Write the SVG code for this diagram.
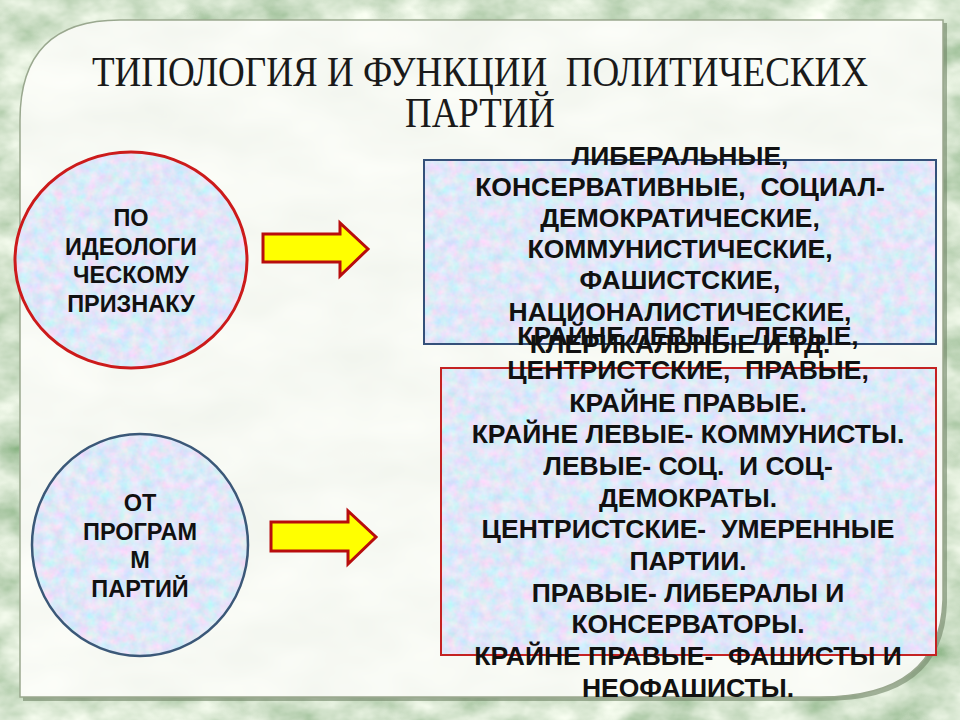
<svg xmlns="http://www.w3.org/2000/svg" width="960" height="720" viewBox="0 0 960 720">
<style>
.title{font-family:"Liberation Serif","Times New Roman",serif;font-size:42px;fill:#1a1a1a;white-space:pre}
.ctext{font-family:"Liberation Sans",Arial,sans-serif;font-weight:bold;font-size:23.5px;fill:#111;text-anchor:middle}
.btext{font-family:"Liberation Sans",Arial,sans-serif;font-weight:bold;font-size:26.5px;fill:#111;text-anchor:middle;white-space:pre}
.arrow{fill:#ffff00;stroke:#b80d0d;stroke-width:3;stroke-linejoin:miter}
</style>
<defs>
<filter id="fbg" filterUnits="userSpaceOnUse" x="0" y="0" width="960" height="720">
<feTurbulence type="fractalNoise" baseFrequency="0.02 0.03" numOctaves="4" seed="7"/>
<feColorMatrix type="matrix" values="0.9 0 0 0 0.19  0.7 0 0 0 0.41  0.85 0 0 0 0.17  0 0 0 0 1"/>
</filter>
<filter id="fpanel" filterUnits="userSpaceOnUse" x="0" y="0" width="960" height="720">
<feTurbulence type="fractalNoise" baseFrequency="0.01 0.02" numOctaves="3" seed="2"/>
<feColorMatrix type="matrix" values="0.12 0 0 0 0.87  0.10 0 0 0 0.9  0.12 0 0 0 0.84  0 0 0 0 1"/>
</filter>
<filter id="fblue" filterUnits="userSpaceOnUse" x="0" y="0" width="240" height="240">
<feTurbulence type="fractalNoise" baseFrequency="0.09" numOctaves="3" seed="5" stitchTiles="stitch"/>
<feColorMatrix type="matrix" values="0.6 -0.2 0 0 0.54  -0.1 0.35 0 0 0.68  0 0 0.2 0 0.84  0 0 0 0 1"/>
</filter>
<pattern id="blue" patternUnits="userSpaceOnUse" width="240" height="240">
<rect width="240" height="240" filter="url(#fblue)"/>
</pattern>
<clipPath id="panelclip">
<path d="M20 120 Q20 20 120 20 L943 20 L943 600 Q940 697 820 697 L20 697 Z"/>
</clipPath>
</defs>

<rect width="960" height="720" filter="url(#fbg)"/>

<g id="panel">
<path d="M23 124 Q23 23 123 23 L947 23 L947 603 Q944 701 823 701 L23 701 Z" fill="#6f8466" opacity="0.6"/>
<g clip-path="url(#panelclip)">
<rect width="960" height="720" filter="url(#fpanel)"/>
</g>
<path d="M20 120 Q20 20 120 20 L943 20 L943 600 Q940 697 820 697 L20 697 Z" fill="none" stroke="#9aa88f" stroke-width="1.5"/>
</g>

<g id="title">
<text class="title" x="92" y="86" textLength="776" lengthAdjust="spacingAndGlyphs">ТИПОЛОГИЯ И ФУНКЦИИ  ПОЛИТИЧЕСКИХ</text>
<text class="title" x="405" y="127" textLength="150" lengthAdjust="spacingAndGlyphs">ПАРТИЙ</text>
</g>

<g id="circle-ideology">
<ellipse cx="131" cy="260" rx="116" ry="108" fill="url(#blue)" stroke="#cc1b1b" stroke-width="3"/>
<text class="ctext" x="131" y="226">ПО</text>
<text class="ctext" x="131" y="255">ИДЕОЛОГИ</text>
<text class="ctext" x="131" y="283">ЧЕСКОМУ</text>
<text class="ctext" x="131" y="312">ПРИЗНАКУ</text>
</g>

<g id="circle-programs">
<ellipse cx="140" cy="545" rx="108" ry="111" fill="url(#blue)" stroke="#3b5878" stroke-width="2.5"/>
<text class="ctext" x="140" y="511">ОТ</text>
<text class="ctext" x="140" y="540">ПРОГРАМ</text>
<text class="ctext" x="140" y="568">М</text>
<text class="ctext" x="140" y="597">ПАРТИЙ</text>
</g>

<g id="connectors">
<polygon class="arrow" points="263,234 340,234 340,223 368,249 340,276 340,262 263,262"/>
<polygon class="arrow" points="271,522 348,522 348,511 376,537 348,564 348,551 271,551"/>
</g>

<g id="box-ideology">
<rect x="424" y="160" width="512" height="184" fill="url(#blue)" stroke="#34507a" stroke-width="2"/>
<text class="btext" x="680" y="165">ЛИБЕРАЛЬНЫЕ,</text>
<text class="btext" x="680" y="196">КОНСЕРВАТИВНЫЕ,  СОЦИАЛ-</text>
<text class="btext" x="680" y="227">ДЕМОКРАТИЧЕСКИЕ,</text>
<text class="btext" x="680" y="258">КОММУНИСТИЧЕСКИЕ,</text>
<text class="btext" x="680" y="289">ФАШИСТСКИЕ,</text>
<text class="btext" x="680" y="321">НАЦИОНАЛИСТИЧЕСКИЕ,</text>
<text class="btext" x="680" y="353">КЛЕРИКАЛЬНЫЕ И ТД.</text>
</g>

<g id="box-programs">
<rect x="441" y="368" width="495" height="287" fill="url(#blue)" stroke="#c42222" stroke-width="2"/>
<text class="btext" x="688" y="345">КРАЙНЕ ЛЕВЫЕ,  ЛЕВЫЕ,</text>
<text class="btext" x="688" y="379">ЦЕНТРИСТСКИЕ,  ПРАВЫЕ,</text>
<text class="btext" x="688" y="412">КРАЙНЕ ПРАВЫЕ.</text>
<text class="btext" x="688" y="443">КРАЙНЕ ЛЕВЫЕ- КОММУНИСТЫ.</text>
<text class="btext" x="688" y="475">ЛЕВЫЕ- СОЦ.  И СОЦ-</text>
<text class="btext" x="688" y="507">ДЕМОКРАТЫ.</text>
<text class="btext" x="688" y="538">ЦЕНТРИСТСКИЕ-  УМЕРЕННЫЕ</text>
<text class="btext" x="688" y="570">ПАРТИИ.</text>
<text class="btext" x="688" y="602">ПРАВЫЕ- ЛИБЕРАЛЫ И</text>
<text class="btext" x="688" y="633">КОНСЕРВАТОРЫ.</text>
<text class="btext" x="688" y="665">КРАЙНЕ ПРАВЫЕ-  ФАШИСТЫ И</text>
<text class="btext" x="688" y="697">НЕОФАШИСТЫ.</text>
</g>
</svg>
